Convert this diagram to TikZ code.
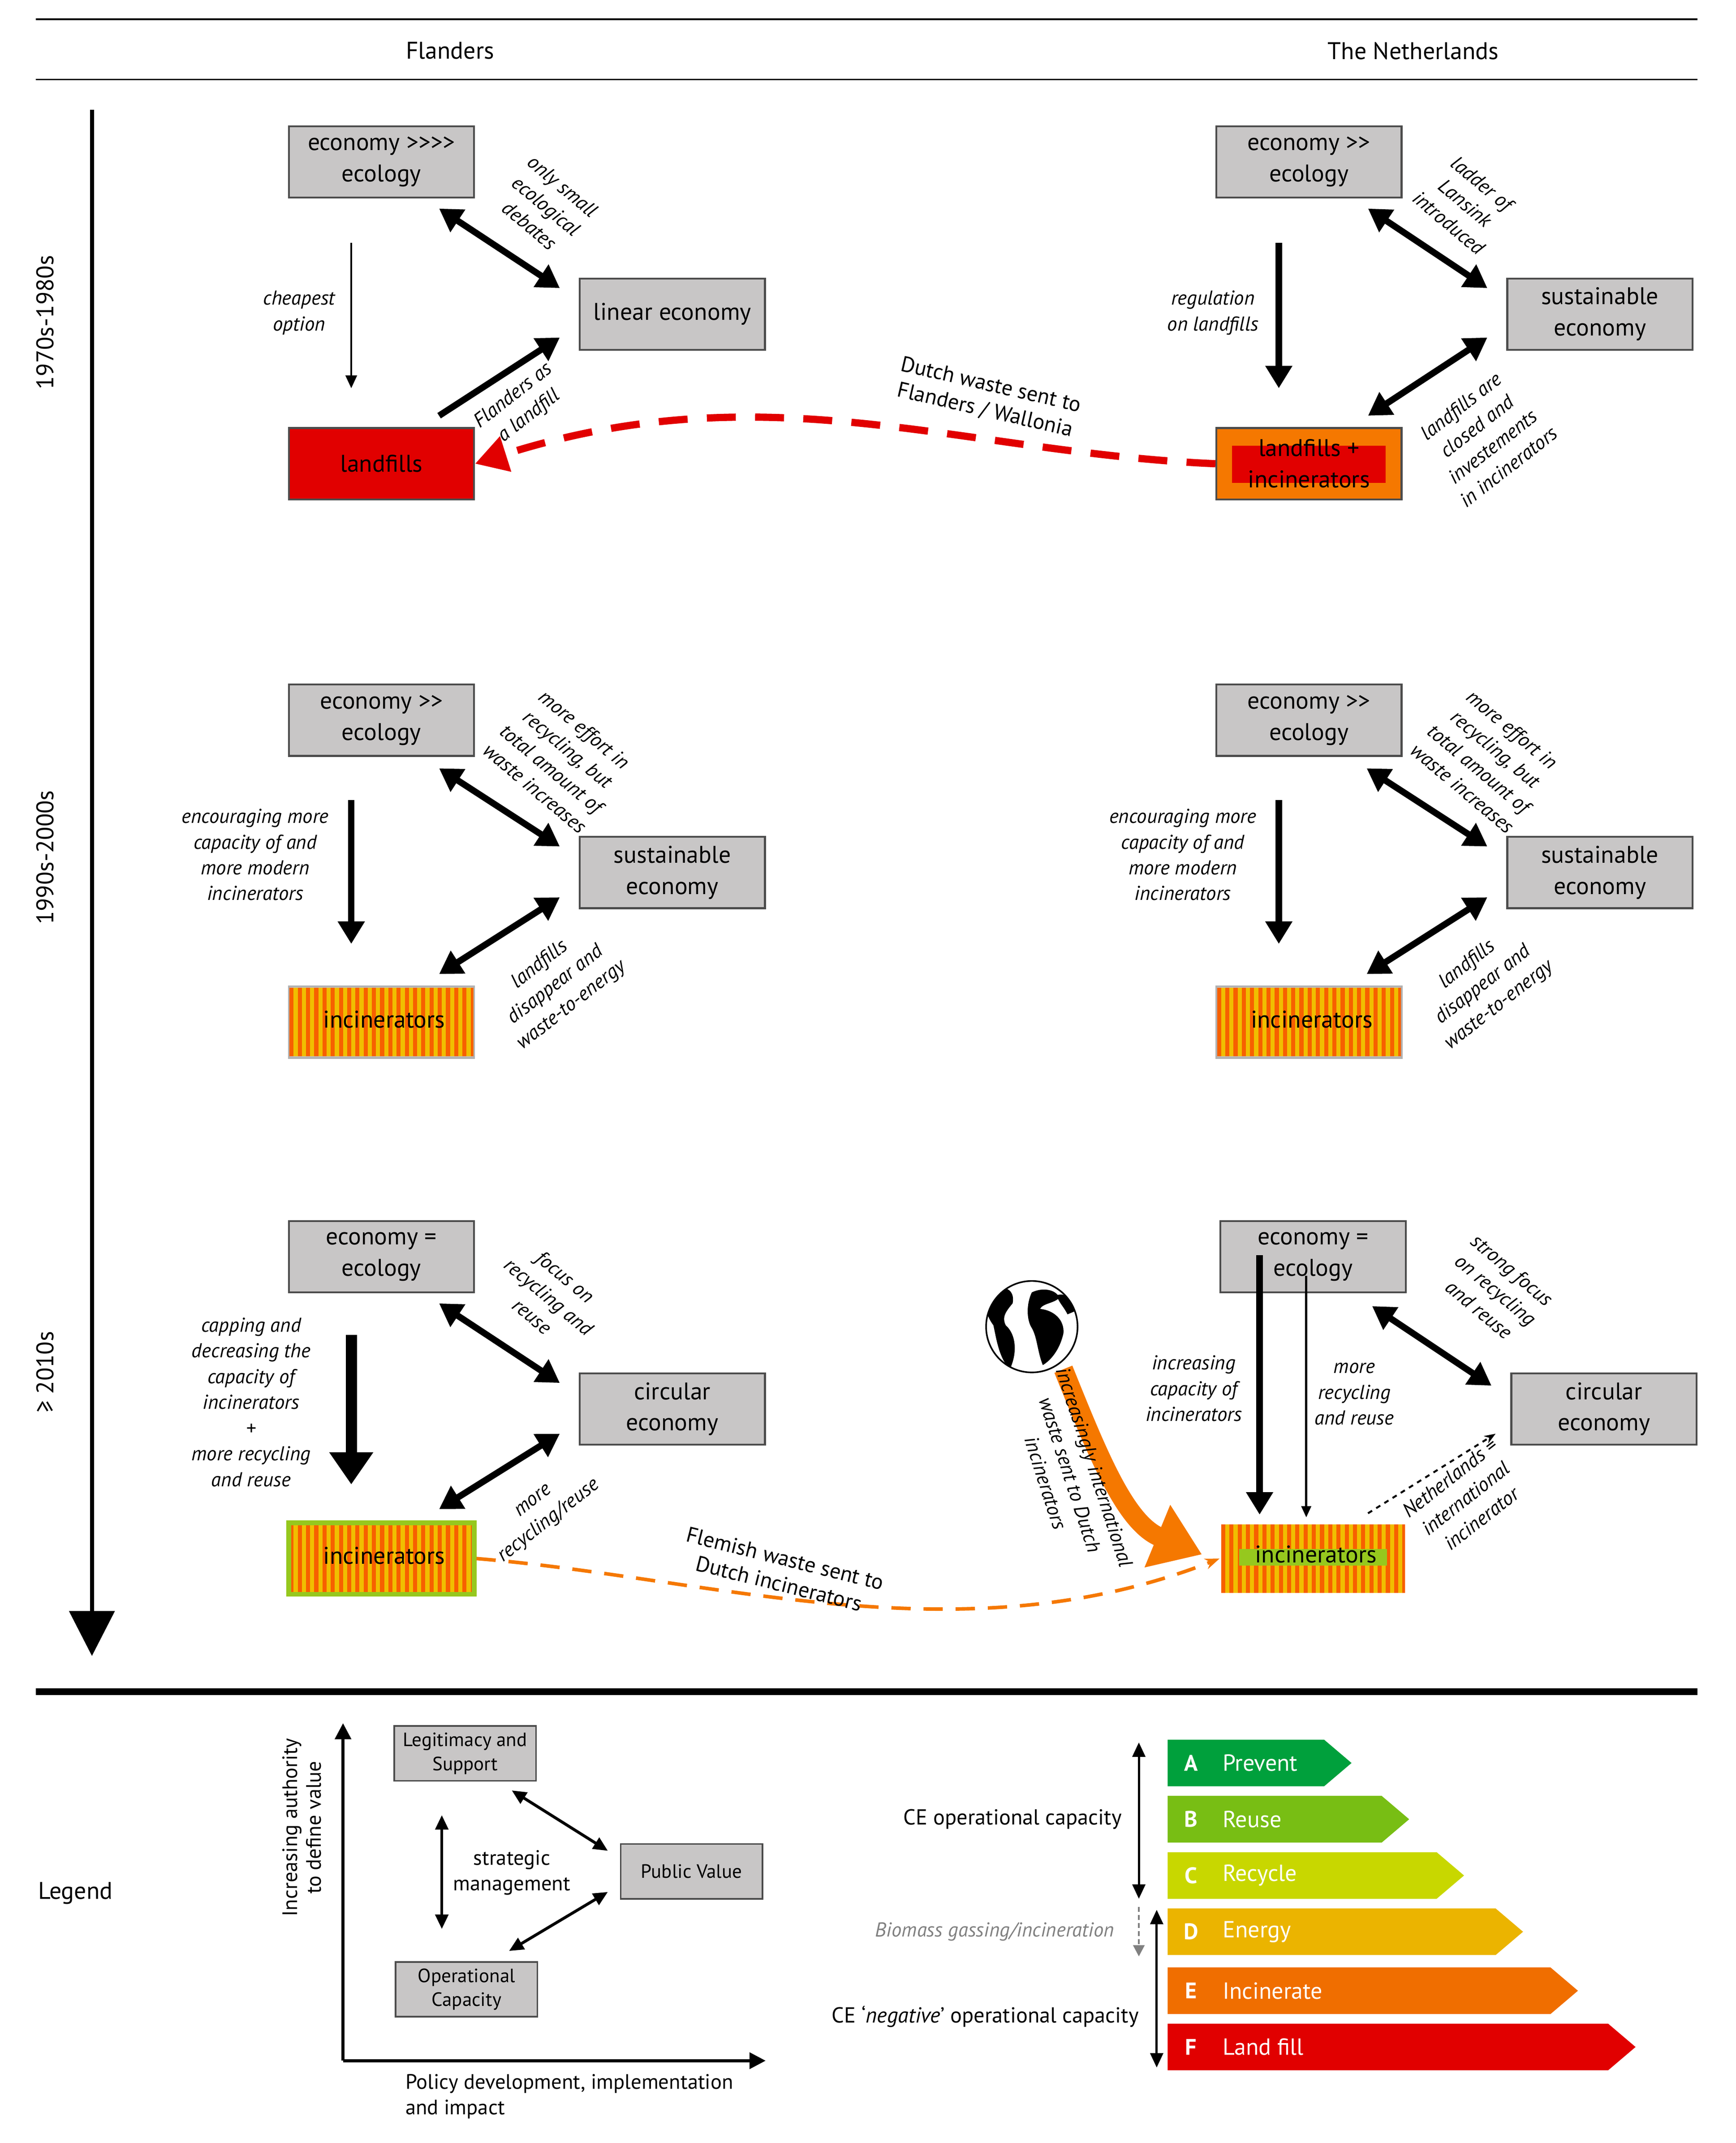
\documentclass[tikz,border=0pt]{standalone}
\usepackage{fontspec}
\setmainfont{PT Sans}
\usetikzlibrary{arrows.meta,shapes.geometric}
\definecolor{bx}{RGB}{200,198,198}
\definecolor{org}{RGB}{245,120,0}
\definecolor{rd}{RGB}{225,0,0}
\definecolor{ylo}{RGB}{240,190,0}
\definecolor{lg}{RGB}{150,200,30}
\newcommand{\gtgt}{{>}{>}}
\tikzset{
 box/.style={draw=black!70,line width=1.2pt,fill=bx,minimum width=4.05cm,minimum height=1.56cm,align=center,font=\fontsize{15}{19.5}\selectfont},
 lab/.style={font=\itshape\fontsize{12.5}{16}\selectfont,align=center},
 big/.style={line width=4pt,-{Triangle[length=14pt,width=16pt]}},
 dbl/.style={line width=4pt,{Triangle[length=14pt,width=16pt]}-{Triangle[length=14pt,width=16pt]}},
 thin/.style={line width=1.3pt,-{Triangle[length=8pt,width=7pt]}},
 sbox/.style={draw=black!70,line width=1pt,fill=bx,minimum width=3.1cm,minimum height=1.2cm,align=center,font=\fontsize{12}{15}\selectfont},
 ldbl/.style={line width=1.8pt,{Triangle[length=9pt,width=8pt]}-{Triangle[length=9pt,width=8pt]}},
}
\newcommand{\stripes}[2]{%
 \begin{scope}
 \clip (#1-67,#2-25) rectangle (#1+67,#2+25);
 \fill[ylo] (#1-67,#2-25) rectangle (#1+67,#2+25);
 \foreach \i in {0,...,22} {\fill[org!80!red] (#1-67+\i*6,#2-25) rectangle (#1-64+\i*6,#2+25);}
 \end{scope}}
\begin{document}
\begin{tikzpicture}[x=0.03cm,y=-0.03cm]
\useasboundingbox (0,0) rectangle (1265,1562);
\draw[line width=1pt] (26,14)--(1237,14);
\draw[line width=1pt] (26,58)--(1237,58);
\node[font=\fontsize{15}{17}\selectfont] at (328,37) {Flanders};
\node[font=\fontsize{15}{17}\selectfont] at (1030,37) {The Netherlands};
\draw[line width=2.5pt,-{Triangle[length=28pt,width=28pt]}] (67,80)--(67,1207);
\node[rotate=90,font=\fontsize{15}{17}\selectfont] at (33,235) {1970s-1980s};
\node[rotate=90,font=\fontsize{15}{17}\selectfont] at (33,625) {1990s-2000s};
\node[rotate=90,font=\fontsize{15}{17}\selectfont] at (33,1000) {≥ 2010s};
\draw[line width=4pt] (26,1233)--(1237,1233);

% ---- panel 1 Flanders
\node[box] (f1e) at (278,118) {economy \gtgt\gtgt\\ecology};
\node[box] (f1l) at (490,229) {linear economy};
\node[box,fill=rd] (f1f) at (278,338) {landfills};
\draw[thin] (256,177)--(256,283);
\node[lab] at (218,228) {cheapest\\option};
\draw[dbl] (320,152)--(408,210);
\node[lab,rotate=-40] at (398,150) {only small\\ecological\\debates};
\draw[big] (320,303)--(408,246);
\node[lab,rotate=38] at (380,296) {Flanders as\\a landfill};
% ---- panel 1 NL
\node[box] (n1e) at (954,118) {economy \gtgt\\ecology};
\node[box] (n1s) at (1166,229) {sustainable\\economy};
\node[box,fill=org] (n1f) at (954,338) {};
\fill[rd] (898,325) rectangle (1010,352);
\node[font=\fontsize{15}{19.5}\selectfont,align=center] at (954,338) {landfills +\\incinerators};
\draw[big] (932,177)--(932,283);
\node[lab] at (884,228) {regulation\\on landfills};
\draw[dbl] (997,152)--(1084,210);
\node[lab,rotate=-40] at (1068,148) {ladder of\\Lansink\\introduced};
\draw[dbl] (997,303)--(1084,246);
\node[lab,rotate=38] at (1082,318) {landfills are\\closed and\\investements\\in incinerators};
\draw[rd,line width=4.5pt,dash pattern=on 18pt off 12pt,-{Triangle[length=20pt,width=22pt]}] (n1f.west) .. controls (700,330) and (560,270) .. (f1f.east);
\node[lab,rotate=-13,font=\fontsize{13.5}{16}\selectfont] at (720,290) {Dutch waste sent to\\Flanders / Wallonia};

% ---- panel 2
\foreach \ox in {0,676}{
\begin{scope}[xshift=\ox*0.03cm]
\node[box] at (278,525) {economy \gtgt\\ecology};
\node[box] at (490,636) {sustainable\\economy};
\node[box,draw=black!30] at (278,745) {};
\stripes{278}{745}
\node[font=\fontsize{15}{17}\selectfont] at (280,743) {incinerators};
\draw[big] (256,583)--(256,688);
\node[lab] at (186,623) {encouraging more\\capacity of and\\more modern\\incinerators};
\draw[dbl] (320,560)--(408,617);
\node[lab,rotate=-40] at (408,553) {more effort in\\recycling, but\\total amount of\\waste increases};
\draw[dbl] (320,710)--(408,654);
\node[lab,rotate=38] at (405,718) {landfills\\disappear and\\waste-to-energy};
\end{scope}}

% ---- panel 3 Flanders
\node[box] (f3e) at (278,916) {economy =\\ecology};
\node[box] (f3c) at (490,1027) {circular\\economy};
\fill[lg] (210,1110) rectangle (346,1162);
\stripes{278}{1136}
\node[box,fill=none,draw=lg,line width=3pt] (f3i) at (278,1136) {};
\node[font=\fontsize{15}{17}\selectfont] at (280,1134) {incinerators};
\draw[line width=7pt,-{Triangle[length=20pt,width=26pt]}] (256,973)--(256,1082);
\node[lab] at (183,1022) {capping and\\decreasing the\\capacity of\\incinerators\\+\\more recycling\\and reuse};
\draw[dbl] (320,950)--(408,1008);
\node[lab,rotate=-40] at (400,945) {focus on\\recycling and\\reuse};
\draw[dbl] (320,1100)--(408,1045);
\node[lab,rotate=38] at (395,1102) {more\\recycling/reuse};
% ---- panel 3 NL
\node[box] (n3e) at (957,916) {economy =\\ecology};
\node[box] (n3c) at (1169,1027) {circular\\economy};
\stripes{957}{1136}
\fill[lg] (903,1129) rectangle (1011,1141);
\node[box,fill=none,draw=none] (n3i) at (957,1136) {};
\node[font=\fontsize{15}{17}\selectfont] at (959,1133) {incinerators};
\draw[line width=4pt,-{Triangle[length=14pt,width=16pt]}] (918,915)--(918,1104);
\draw[line width=1.3pt,-{Triangle[length=7pt,width=6pt]}] (952,930)--(952,1106);
\node[lab] at (870,1012) {increasing\\capacity of\\incinerators};
\node[lab] at (987,1016) {more\\recycling\\and reuse};
\draw[dbl] (1000,952)--(1087,1010);
\node[lab,rotate=-40] at (1090,940) {strong focus\\on recycling\\and reuse};
\draw[line width=1.2pt,dashed,-{Stealth[length=7pt]}] (997,1103)--(1090,1045);
\node[lab,rotate=38] at (1068,1092) {Netherlands =\\international\\incinerator};
% globe
\node[circle,draw=black,line width=1pt,fill=white,minimum size=2cm] (globe) at (752,967) {};
\begin{scope}
\clip (752,967) circle (33);
\fill[black] (722,940) .. controls (732,936) and (740,940) .. (738,950) .. controls (733,956) and (730,960) .. (733,966) .. controls (740,972) and (742,985) .. (736,998) .. controls (728,990) and (726,975) .. (724,966) .. controls (718,958) and (716,948) .. (722,940);
\fill[black] (752,942) .. controls (760,938) and (770,940) .. (772,946) .. controls (768,950) and (760,950) .. (758,954) .. controls (768,955) and (776,962) .. (775,972) .. controls (772,985) and (765,992) .. (760,995) .. controls (756,985) and (756,975) .. (752,968) .. controls (748,962) and (748,950) .. (752,942);
\fill[black] (770,944) .. controls (778,942) and (785,948) .. (785,955) -- (778,958) .. controls (775,952) and (772,950) .. (770,944);
\end{scope}
\draw[org,line width=12pt,-{Triangle[length=30pt,width=40pt]}] (775,998) .. controls (800,1060) and (820,1110) .. (876,1133);
\node[lab,rotate=-72] at (780,1075) {increasingly international\\waste sent to Dutch\\incinerators};
\draw[org,line width=2.2pt,dash pattern=on 12pt off 8pt,-{Stealth[length=9pt]}] (f3i.east) .. controls (520,1150) and (700,1210) .. (n3i.west);
\node[lab,rotate=-14,font=\fontsize{13.5}{16}\selectfont] at (570,1145) {Flemish waste sent to\\Dutch incinerators};

% ---- legend
\node[font=\fontsize{15}{17}\selectfont] at (55,1380) {Legend};
\draw[line width=1.8pt,-{Triangle[length=10pt,width=10pt]}] (250,1502)--(250,1256);
\draw[line width=1.8pt,-{Triangle[length=10pt,width=10pt]}] (250,1502)--(558,1502);
\node[rotate=90,font=\fontsize{13}{15}\selectfont,align=center] at (220,1332) {Increasing authority\\to define value};
\node[font=\fontsize{13}{16}\selectfont,align=left] at (415,1528) {Policy development, implementation\\and impact};
\node[sbox] (lg1) at (339,1278) {Legitimacy and\\Support};
\node[sbox] (lg2) at (504,1364) {Public Value};
\node[sbox] (lg3) at (340,1450) {Operational\\Capacity};
\node[font=\fontsize{13}{16}\selectfont,align=center] at (373,1365) {strategic\\management};
\draw[ldbl] (322,1323)--(322,1406);
\draw[ldbl] (373,1305)--(443,1349);
\draw[ldbl] (371,1422)--(443,1379);
% ladder
\foreach \y/\r/\c/\L/\T in {1285/985/{0,160,60}/A/Prevent,1326/1027/{120,190,20}/B/Reuse,1367/1067/{200,215,0}/C/Recycle,1408/1110/{235,180,0}/D/Energy,1451/1150/{240,110,0}/E/Incinerate,1492/1192/{225,0,0}/F/Land fill}{
 \definecolor{cc}{RGB}{\c}
 \fill[cc] (851,\y-17) -- (\r-20,\y-17) -- (\r,\y) -- (\r-20,\y+17) -- (851,\y+17) -- cycle;
 \node[white,font=\bfseries\fontsize{14}{16}\selectfont] at (868,\y) {\L};
 \node[white,anchor=west,font=\fontsize{14.5}{16}\selectfont] at (887,\y) {\T};
}
\draw[ldbl,line width=1.4pt] (830,1270)--(830,1384);
\node[font=\fontsize{13.5}{15}\selectfont] at (738,1326) {CE operational capacity};
\draw[gray,line width=1.2pt,densely dashed,-{Triangle[length=7pt,width=7pt]}] (830,1390)--(830,1426);
\node[gray,font=\itshape\fontsize{12.5}{14}\selectfont] at (725,1408) {Biomass gassing/incineration};
\draw[ldbl,line width=1.4pt] (843,1392)--(843,1507);
\node[font=\fontsize{13.5}{15}\selectfont] at (718,1470) {CE `\textit{negative}' operational capacity};
\end{tikzpicture}
\end{document}
